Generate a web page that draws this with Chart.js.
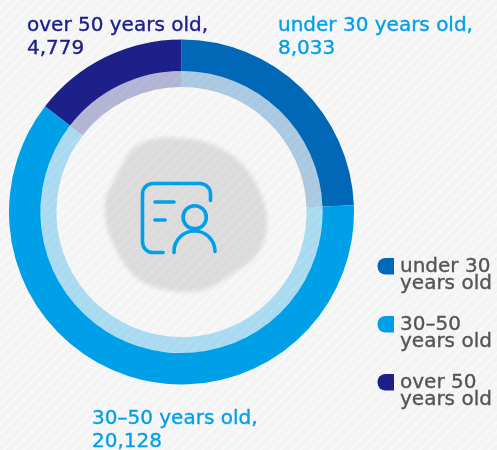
<!DOCTYPE html>
<html>
<head>
<meta charset="utf-8">
<style>
  html, body { margin: 0; padding: 0; }
  body {
    width: 497px; height: 450px; overflow: hidden;
    background: repeating-linear-gradient(135deg, #f4f4f4 0, #f4f4f4 5px, #f9f9f9 5px, #f9f9f9 7px);
  }
  canvas { display: block; }
</style>
</head>
<body>
<canvas id="ring" width="497" height="450"></canvas>
<script src="https://cdn.jsdelivr.net/npm/chart.js@4"></script>
<script>
const categories = ["under 30 years old", "30–50 years old", "over 50 years old"];
const employees = [8033, 20128, 4779];
const valueLabels = ["8,033", "20,128", "4,779"];
const legendLines = [["under 30", "years old"], ["30–50", "years old"], ["over 50", "years old"]];
const ringColors = ["#0068b7", "#00a0e9", "#1d2088"];
const paleColors = ["rgba(0,104,183,0.3)", "rgba(0,160,233,0.3)", "rgba(29,32,136,0.3)"];

const FONT = '"DejaVu Sans", sans-serif';
const labelSpots = [[278, 31], [92, 424], [27, 31]];
const legendTops = [272, 330, 388];

// gray smudge behind the icon plus the person-card icon itself
const centerArt = {
  id: "centerArt",
  beforeDatasetsDraw(chart) {
    const ctx = chart.ctx;
    const blob = [[103,215],[109,178],[126,153],[145,140],[170,137],[203,140],[235,155],[258,183],
                  [270,222],[260,255],[236,272],[205,292],[170,292],[135,281],[112,245]];
    ctx.save();
    ctx.filter = "blur(2px)";
    ctx.fillStyle = "rgba(0,0,0,0.1)";
    ctx.beginPath();
    blob.forEach(([x, y], i) => {
      const next = blob[(i + 1) % blob.length];
      const mx = (x + next[0]) / 2, my = (y + next[1]) / 2;
      if (i === 0) ctx.moveTo(mx, my);
      else ctx.quadraticCurveTo(next[0], next[1], (next[0] + blob[(i + 2) % blob.length][0]) / 2, (next[1] + blob[(i + 2) % blob.length][1]) / 2);
    });
    ctx.closePath();
    ctx.fill();
    ctx.filter = "none";

    ctx.strokeStyle = "#00a0e9";
    ctx.lineWidth = 3.6;
    ctx.lineCap = "round";
    ctx.beginPath();
    ctx.moveTo(210.5, 200.5);
    ctx.lineTo(210.5, 194);
    ctx.arcTo(210.5, 183.5, 200, 183.5, 10.5);
    ctx.lineTo(153, 183.5);
    ctx.arcTo(142.5, 183.5, 142.5, 194, 10.5);
    ctx.lineTo(142.5, 242);
    ctx.arcTo(142.5, 252.5, 153, 252.5, 10.5);
    ctx.lineTo(163, 252.5);
    ctx.moveTo(155, 202);
    ctx.lineTo(174, 202);
    ctx.moveTo(155, 220);
    ctx.lineTo(165, 220);
    ctx.moveTo(206.3, 217.3);
    ctx.arc(194.7, 217.3, 11.6, 0, Math.PI * 2);
    ctx.moveTo(174, 252.5);
    ctx.arc(194.5, 251.5, 20.5, Math.PI, 0);
    ctx.stroke();
    ctx.restore();
  }
};

// value captions around the ring and the legend on the right
const captions = {
  id: "captions",
  afterDraw(chart) {
    const ctx = chart.ctx;
    const put = (text, x, y) => {
      ctx.fillText(text, x, y);
      ctx.strokeText(text, x, y);
    };
    ctx.save();
    ctx.textBaseline = "alphabetic";
    ctx.font = "20px " + FONT;
    ctx.lineWidth = 0.35;
    categories.forEach((name, i) => {
      const [x, y] = labelSpots[i];
      ctx.fillStyle = ctx.strokeStyle = i === 2 ? ringColors[2] : ringColors[1];
      put(name + ",", x, y);
      put(valueLabels[i], x, y + 23);
    });
    legendLines.forEach((lines, i) => {
      const top = legendTops[i];
      ctx.fillStyle = ringColors[i];
      ctx.beginPath();
      ctx.roundRect(377.5, top - 14, 16.5, 16.5, [8, 0, 0, 8]);
      ctx.fill();
      ctx.fillStyle = ctx.strokeStyle = "#555555";
      lines.forEach((line, j) => put(line, 400, top + j * 17));
    });
    ctx.restore();
  }
};

new Chart(document.getElementById("ring"), {
  type: "doughnut",
  data: {
    labels: categories,
    datasets: [
      { data: employees, backgroundColor: ringColors, borderWidth: 0, weight: 31.5 },
      { data: employees, backgroundColor: paleColors, borderWidth: 0, weight: 16 },
    ],
  },
  options: {
    responsive: false,
    animation: false,
    cutout: "72.5%",
    layout: { padding: { left: 9, right: 143, top: 39.5, bottom: 65.5 } },
    plugins: { legend: { display: false }, tooltip: { enabled: false } },
  },
  plugins: [centerArt, captions],
});
</script>
</body>
</html>
